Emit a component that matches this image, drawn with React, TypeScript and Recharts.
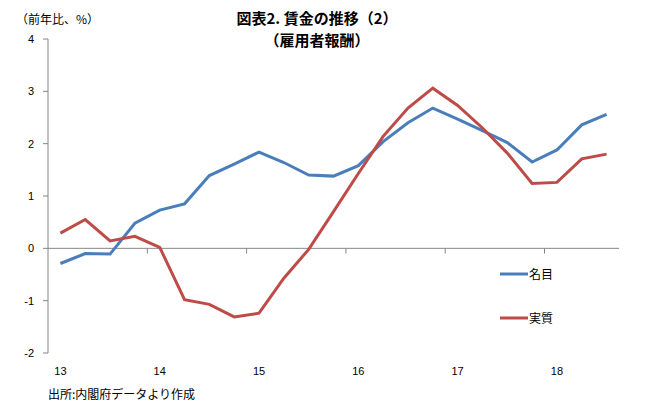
import React from "react";
import { LineChart, Line, XAxis, YAxis, ReferenceLine, Legend } from "recharts";

const quarters = [
  "13Q1", "13Q2", "13Q3", "13Q4",
  "14Q1", "14Q2", "14Q3", "14Q4",
  "15Q1", "15Q2", "15Q3", "15Q4",
  "16Q1", "16Q2", "16Q3", "16Q4",
  "17Q1", "17Q2", "17Q3", "17Q4",
  "18Q1", "18Q2", "18Q3",
];
const yearLabels = ["13", "14", "15", "16", "17", "18"];
const nominal = [
  -0.29, -0.1, -0.11, 0.48, 0.73, 0.85, 1.39, 1.61, 1.84, 1.64, 1.4, 1.38,
  1.58, 2.04, 2.4, 2.68, 2.47, 2.25, 2.02, 1.65, 1.88, 2.36, 2.56,
];
const real = [
  0.29, 0.55, 0.14, 0.23, 0.02, -0.98, -1.07, -1.31, -1.24, -0.57, -0.02, 0.7,
  1.43, 2.14, 2.68, 3.06, 2.73, 2.3, 1.82, 1.24, 1.26, 1.71, 1.8,
];
const yTicks = [-2, -1, 0, 1, 2, 3, 4];
const seriesNames = { nominal: "名目", real: "実質" };

const data = quarters.map((q, i) => ({
  i,
  q,
  nominal: nominal[i],
  real: real[i],
}));

const labelTicks = yearLabels.map((_, k) => k * 4);
const boundaryTicks = yearLabels.slice(1).map((_, k) => (k + 1) * 4 - 0.5);

const JP = '"Noto Sans CJK JP", "Noto Sans", sans-serif';
const AXIS = "#868686";

const LegendContent = (props: any) => {
  const payload = props.payload || [];
  return (
    <div style={{ fontFamily: JP, fontSize: 12, color: "#000" }}>
      {payload.map((p: any, idx: number) => (
        <div
          key={idx}
          style={{
            display: "flex",
            alignItems: "center",
            height: 20,
            marginBottom: idx === 0 ? 24 : 0,
          }}
        >
          <svg width={29} height={6} style={{ display: "block" }}>
            <line x1={0} y1={3} x2={28} y2={3} stroke={p.color} strokeWidth={3} />
          </svg>
          <span style={{ lineHeight: "20px" }}>{p.value}</span>
        </div>
      ))}
    </div>
  );
};

export default function App() {
  return (
    <div
      style={{
        position: "absolute",
        left: 0,
        top: 0,
        width: 648,
        height: 412,
        background: "#fff",
      }}
    >
      <LineChart
        width={648}
        height={412}
        data={data}
        margin={{ top: 39, right: 29, left: 0, bottom: 0 }}
      >
        <XAxis
          dataKey="i"
          type="number"
          domain={[-0.5, 22.5]}
          ticks={labelTicks}
          tickFormatter={(v: number) => yearLabels[Math.round(v / 4)]}
          axisLine={false}
          tickLine={false}
          tickSize={0}
          tickMargin={14}
          height={59}
          interval={0}
          tick={{ fontSize: 11, fill: "#000", fontFamily: "Liberation Sans, Arial, sans-serif" }}
        />
        <YAxis
          domain={[-2, 4]}
          ticks={yTicks}
          interval={0}
          width={48}
          tickSize={5}
          tickMargin={9}
          axisLine={{ stroke: AXIS }}
          tickLine={{ stroke: AXIS }}
          tick={{ fontSize: 11, fill: "#000", fontFamily: "Liberation Sans, Arial, sans-serif" }}
        />
        <ReferenceLine y={0} stroke={AXIS} strokeWidth={1} />
        {boundaryTicks.map((b) => (
          <ReferenceLine
            key={b}
            segment={[
              { x: b, y: 0 },
              { x: b, y: -0.1 },
            ]}
            stroke={AXIS}
            strokeWidth={1}
          />
        ))}
        <Line
          dataKey="nominal"
          name={seriesNames.nominal}
          stroke="#4A7EBB"
          strokeWidth={3}
          dot={false}
          isAnimationActive={false}
        />
        <Line
          dataKey="real"
          name={seriesNames.real}
          stroke="#BE4B48"
          strokeWidth={3}
          dot={false}
          isAnimationActive={false}
        />
        <Legend
          layout="vertical"
          align="center"
          verticalAlign="middle"
          content={<LegendContent />}
          wrapperStyle={{ left: 500, top: 264, width: 90 }}
        />
      </LineChart>
      <div
        style={{
          position: "absolute",
          left: 0,
          top: 7,
          width: 634,
          textAlign: "center",
          fontFamily: JP,
          fontWeight: "bold",
          fontSize: 15,
          lineHeight: "22px",
          color: "#000",
        }}
      >
        <div>図表2. 賃金の推移（2）</div>
        <div>（雇用者報酬）</div>
      </div>
      <div
        style={{
          position: "absolute",
          left: 16,
          top: 12,
          fontFamily: JP,
          fontSize: 12,
          lineHeight: "14px",
          color: "#000",
          whiteSpace: "nowrap",
        }}
      >
        （前年比、%）
      </div>
      <div
        style={{
          position: "absolute",
          left: 48,
          top: 387,
          fontFamily: JP,
          fontSize: 12,
          lineHeight: "14px",
          color: "#000",
          whiteSpace: "nowrap",
        }}
      >
        出所:内閣府データより作成
      </div>
    </div>
  );
}
